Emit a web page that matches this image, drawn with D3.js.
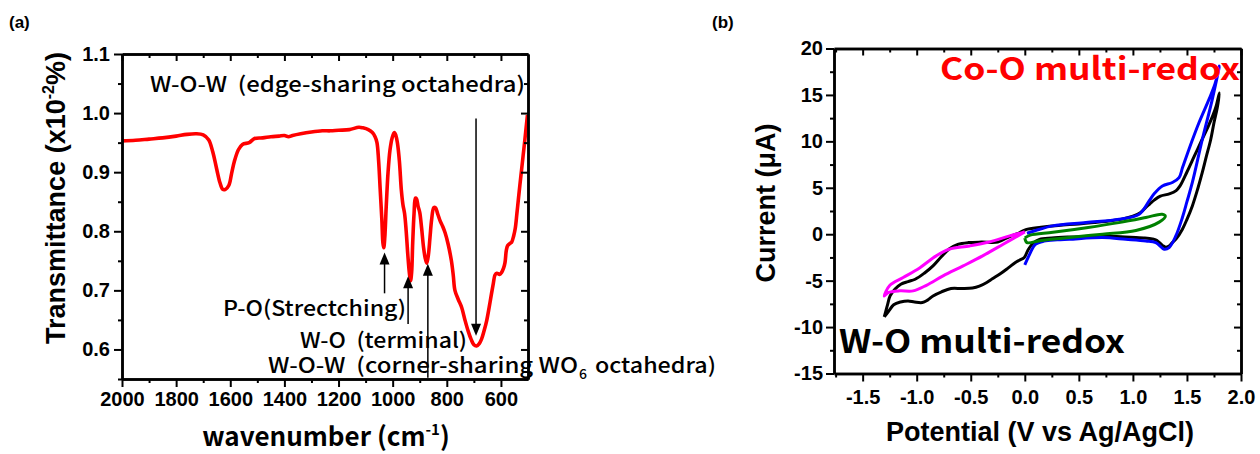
<!DOCTYPE html>
<html><head><meta charset="utf-8">
<script src="https://cdn.jsdelivr.net/npm/d3@7"></script>
<style>
body{margin:0;background:#fff;}
svg{display:block;}
text{white-space:pre;}
</style></head>
<body>
<svg id="c" width="1260" height="454"></svg>
<script>
// ---------- Panel (a): FTIR ----------
const ftirWavenumber = [2000,1950,1900,1850,1800,1760,1725,1700,1680,1665,1650,1638,1628,1618,1605,1595,1585,1570,1555,1530,1510,1480,1450,1420,1400,1385,1370,1340,1300,1260,1230,1200,1160,1125,1110,1090,1075,1065,1058,1052,1046,1040,1036,1033,1029,1024,1017,1010,1002,994,988,982,975,968,962,956,950,944,938,934,930,926,921,916,912,906,900,893,886,880,874,868,862,856,848,842,834,825,815,806,795,783,776,770,758,745,733,721,710,700,690,680,672,662,653,644,635,628,622,615,605,598,590,585,580,575,565,560,553,547,541,536,530,524,518,512,507,502];
const ftirTransmittance = [0.953,0.954,0.956,0.958,0.961,0.964,0.965,0.963,0.955,0.935,0.905,0.882,0.871,0.871,0.878,0.898,0.918,0.938,0.947,0.950,0.957,0.958,0.960,0.961,0.962,0.960,0.962,0.965,0.968,0.970,0.970,0.971,0.972,0.976,0.975,0.972,0.967,0.960,0.950,0.920,0.870,0.820,0.780,0.772,0.790,0.840,0.900,0.937,0.958,0.967,0.962,0.948,0.918,0.870,0.845,0.830,0.800,0.760,0.728,0.716,0.730,0.780,0.830,0.856,0.855,0.842,0.832,0.805,0.773,0.755,0.746,0.760,0.790,0.820,0.840,0.840,0.830,0.818,0.808,0.797,0.778,0.750,0.725,0.700,0.685,0.671,0.650,0.631,0.617,0.608,0.606,0.610,0.617,0.632,0.648,0.670,0.694,0.712,0.726,0.729,0.727,0.730,0.738,0.747,0.768,0.776,0.780,0.782,0.792,0.805,0.830,0.852,0.878,0.903,0.928,0.953,0.975,0.997];
const ftirXTicks = [2000,1800,1600,1400,1200,1000,800,600];
const ftirYTicks = [0.6,0.7,0.8,0.9,1.0,1.1];
// up-arrows: [wavenumber, tail, tip]
const upArrows = [[1030,0.695,0.764],[943,0.643,0.724],[870,0.552,0.745]];
const downArrow = [692,0.991,0.623];

// ---------- Panel (b): CV ----------
const cvBlackV = [-1.30,-1.27,-1.246,-1.20,-1.147,-1.08,-1.014,-0.93,-0.849,-0.77,-0.70,-0.62,-0.52,-0.40,-0.25,-0.15,-0.05,0.01,0.15,0.31,0.50,0.64,0.80,0.906,1.0,1.072,1.12,1.155,1.20,1.254,1.337,1.40,1.436,1.50,1.568,1.64,1.70,1.74,1.77,1.80,
  1.78,1.75,1.72,1.68,1.642,1.60,1.55,1.50,1.458,1.40,1.365,1.33,1.304,1.273,1.22,1.18,1.10,1.028,0.85,0.72,0.55,0.412,0.25,0.136,0.074,0.03,-0.005,-0.05,-0.087,-0.15,-0.22,-0.30,-0.352,-0.42,-0.484,-0.58,-0.683,-0.77,-0.849,-0.90,-0.948,-1.02,-1.08,-1.15,-1.213,-1.26,-1.30];
const cvBlackI = [-8.9,-7.6,-6.65,-5.9,-5.39,-5.1,-4.85,-4.2,-3.41,-2.4,-1.6,-1.1,-0.9,-0.85,-0.85,-0.3,0.15,0.5,0.75,0.95,1.1,1.25,1.45,1.65,1.95,2.35,2.9,3.25,3.7,4.1,4.35,4.7,5.2,6.7,8.4,10.2,11.7,12.8,13.8,15.2,
  13.6,12.0,10.2,8.4,6.65,4.9,3.05,1.6,0.54,-0.5,-0.9,-1.3,-1.4,-1.2,-0.65,-0.5,-0.4,-0.36,-0.25,-0.2,-0.25,-0.3,-0.4,-0.55,-1.0,-1.7,-2.5,-2.8,-3.05,-3.6,-4.2,-4.8,-5.2,-5.6,-5.8,-5.85,-5.85,-6.2,-6.65,-7.1,-7.36,-7.3,-7.18,-7.3,-7.6,-8.3,-8.9];
const cvBlueV = [0.0,0.05,0.095,0.178,0.30,0.412,0.72,0.935,1.12,1.212,1.289,1.335,1.397,1.458,1.50,1.55,1.642,1.734,1.80,
  1.76,1.703,1.611,1.519,1.46,1.427,1.365,1.273,1.20,1.15,1.058,0.874,0.566,0.258,0.10,0.02];
const cvBlueI = [-3.3,-2.04,-1.12,-0.74,-0.6,-0.54,-0.36,-0.54,-0.72,-0.9,-1.62,-1.44,-0.18,1.8,3.5,5.57,10.2,14.5,18.1,
  16.2,14.5,12.0,9.16,7.2,6.1,5.57,5.2,4.4,3.59,2.16,1.62,1.26,0.9,0.4,0.1];
const cvGreenV = [0.0,0.05,0.26,0.57,0.87,1.12,1.27,1.30,1.243,1.028,0.72,0.41,0.14,0.02,0.0];
const cvGreenI = [-0.4,-0.1,0.2,0.7,1.25,1.8,2.15,1.95,1.3,0.4,0.0,-0.35,-0.7,-0.9,-0.4];
const cvMagentaV = [0.0,-0.14,-0.33,-0.51,-0.70,-0.82,-0.97,-1.125,-1.248,-1.30,-1.264,-1.156,-1.033,-0.91,-0.756,-0.57,-0.39,-0.20,0.0];
const cvMagentaI = [0.25,-0.18,-0.83,-1.26,-1.62,-2.33,-3.6,-4.67,-5.5,-6.65,-6.29,-6.1,-6.1,-5.5,-4.49,-3.41,-2.33,-1.08,0.25];
const cvXTicks = [-1.5,-1.0,-0.5,0.0,0.5,1.0,1.5,2.0];
const cvYTicks = [-15,-10,-5,0,5,10,15,20];

const svg = d3.select("#c");
const tickFont = "'Liberation Sans', Arial, sans-serif";
const annFont = "'Noto Sans CJK KR', 'Noto Sans', sans-serif";
const hy = f => v => f(v).replace("\u2212","-");

function frame(g, x, y, xTicks, yTicks, xMinor, yMinor, xFmt, yFmt, xPad, yPad){
  const [x0,x1] = x.range(), [y0,y1] = y.range();
  const ax = (sel)=>{ sel.selectAll("path.domain").attr("stroke","#000").attr("stroke-width",2.5);
    sel.selectAll(".tick line").attr("stroke","#000").attr("stroke-width",2);
    sel.selectAll("text").attr("font-family",tickFont).attr("font-weight","bold").attr("font-size",20).attr("fill","#000"); };
  g.append("g").attr("transform",`translate(0,${y0})`).call(d3.axisBottom(x).tickValues(xMinor).tickSize(4).tickFormat("").tickSizeOuter(0)).call(ax);
  g.append("g").attr("transform",`translate(0,${y1})`).call(d3.axisBottom(x).tickValues(xMinor).tickSize(4).tickFormat("").tickSizeOuter(0)).call(ax);
  g.append("g").attr("transform",`translate(${x0},0)`).call(d3.axisLeft(y).tickValues(yMinor).tickSize(4).tickFormat("").tickSizeOuter(0)).call(ax);
  g.append("g").attr("transform",`translate(${x1},0)`).call(d3.axisLeft(y).tickValues(yMinor).tickSize(4).tickFormat("").tickSizeOuter(0)).call(ax);
  g.append("g").attr("transform",`translate(0,${y0})`).call(d3.axisBottom(x).tickValues(xTicks).tickSize(8).tickPadding(xPad).tickFormat(hy(xFmt)).tickSizeOuter(0)).call(ax);
  g.append("g").attr("transform",`translate(0,${y1})`).call(d3.axisBottom(x).tickValues(xTicks).tickSize(7).tickFormat("").tickSizeOuter(0)).call(ax);
  g.append("g").attr("transform",`translate(${x0},0)`).call(d3.axisLeft(y).tickValues(yTicks).tickSize(8).tickPadding(yPad).tickFormat(hy(yFmt)).tickSizeOuter(0)).call(ax);
  g.append("g").attr("transform",`translate(${x1},0)`).call(d3.axisLeft(y).tickValues(yTicks).tickSize(7).tickFormat("").tickSizeOuter(0)).call(ax);
}

// ----- Panel (a)
const xa = d3.scaleLinear().domain([2000,500]).range([122,528]);
const ya = d3.scaleLinear().domain([0.55,1.1]).range([379,54]);
const ga = svg.append("g");
const ftir = ftirWavenumber.map((w,i)=>[w,ftirTransmittance[i]]);
ga.append("path").datum(ftir).attr("fill","none").attr("stroke","#ff0000").attr("stroke-width",3.6)
  .attr("stroke-linejoin","round").attr("d",d3.line().x(d=>xa(d[0])).y(d=>ya(d[1])).curve(d3.curveCatmullRom));
frame(ga, xa, ya, ftirXTicks, ftirYTicks, d3.range(1900,500,-200), [0.55,0.65,0.75,0.85,0.95,1.05], d3.format("d"), d3.format(".1f"), 5, 4);

function arrow(g, x, yTail, yTip){
  const dir = yTip < yTail ? -1 : 1;
  g.append("line").attr("x1",x).attr("x2",x).attr("y1",yTail).attr("y2",yTip - dir*10).attr("stroke","#000").attr("stroke-width",1.5);
  g.append("path").attr("d",`M${x},${yTip} L${x-5},${yTip-dir*12} L${x+5},${yTip-dir*12} Z`).attr("fill","#000");
}
upArrows.forEach(a=>arrow(ga, xa(a[0]), ya(a[1]), ya(a[2])));
arrow(ga, xa(downArrow[0]), ya(downArrow[1]), ya(downArrow[2]));

const ann = (g,x,y,t,size,weight,fill,len)=>{
  const e = g.append("text").attr("x",x).attr("y",y).attr("font-family",annFont).attr("font-size",size).attr("font-weight",weight||"normal").attr("fill",fill||"#000").text(t);
  if(len) e.attr("textLength",len).attr("lengthAdjust","spacingAndGlyphs");
  return e;
};
ann(ga,150,92,"W-O-W  (edge-sharing octahedra)",21,"500",null,375);
ann(ga,223,316,"P-O(Strectching)",21,"500",null,183);
ann(ga,300,348,"W-O  (terminal)",21,"500",null,167);
ann(ga,268,373,"W-O-W  (corner-sharing WO",21,"500",null,310);
ann(ga,579,379,"6",14,"500");
ann(ga,595,373,"octahedra)",21,"500",null,121);

// axis titles a
const ta = svg.append("text").attr("transform","translate(65,198) rotate(-90)").attr("text-anchor","middle")
  .attr("font-family",tickFont).attr("font-weight","bold").attr("font-size",27).text("Transmittance (x10");
ta.append("tspan").attr("font-size",16).attr("dy",-11).text("-2");
ta.append("tspan").attr("dy",11).text("%)");
const tx = svg.append("text").attr("x",326).attr("y",446).attr("text-anchor","middle")
  .attr("font-family",annFont).attr("font-weight","bold").attr("font-size",26).text("wavenumber (cm");
tx.append("tspan").attr("font-size",15).attr("dy",-11).text("-1");
tx.append("tspan").attr("dy",11).text(")");
svg.append("text").attr("x",9).attr("y",28).attr("font-family",tickFont).attr("font-weight","bold").attr("font-size",17).text("(a)");

// ----- Panel (b)
const xb = d3.scaleLinear().domain([-1.765,2.0]).range([834,1241]);
const yb = d3.scaleLinear().domain([-15,20]).range([373.5,48.5]);
const gb = svg.append("g");
const lineB = d3.line().x(d=>xb(d[0])).y(d=>yb(d[1])).curve(d3.curveCatmullRom);
const series = [[cvBlackV,cvBlackI,"#000000"],[cvBlueV,cvBlueI,"#0000ff"],[cvMagentaV,cvMagentaI,"#ff00ff"],[cvGreenV,cvGreenI,"#008000"]];
series.forEach(([v,c,col])=>{
  gb.append("path").datum(v.map((d,i)=>[d,c[i]])).attr("fill","none").attr("stroke",col).attr("stroke-width",3)
    .attr("stroke-linejoin","round").attr("d",lineB);
});
frame(gb, xb, yb, cvXTicks, cvYTicks, [-1.75,-1.25,-0.75,-0.25,0.25,0.75,1.25,1.75], [-12.5,-7.5,-2.5,2.5,7.5,12.5,17.5], d3.format(".1f"), d3.format("d"), 8, 3);
ann(gb,940,80,"Co-O multi-redox",31,"bold","#ff0000",300);
ann(gb,839,353,"W-O multi-redox",32,"bold","#000",286);
svg.append("text").attr("transform","translate(775,203) rotate(-90)").attr("text-anchor","middle")
  .attr("font-family",tickFont).attr("font-weight","bold").attr("font-size",27).text("Current (\u03BCA)");
svg.append("text").attr("x",1040).attr("y",441).attr("text-anchor","middle")
  .attr("font-family",tickFont).attr("font-weight","bold").attr("font-size",27).text("Potential (V vs Ag/AgCl)");
svg.append("text").attr("x",712).attr("y",28).attr("font-family",tickFont).attr("font-weight","bold").attr("font-size",17).text("(b)");
</script>
</body></html>
